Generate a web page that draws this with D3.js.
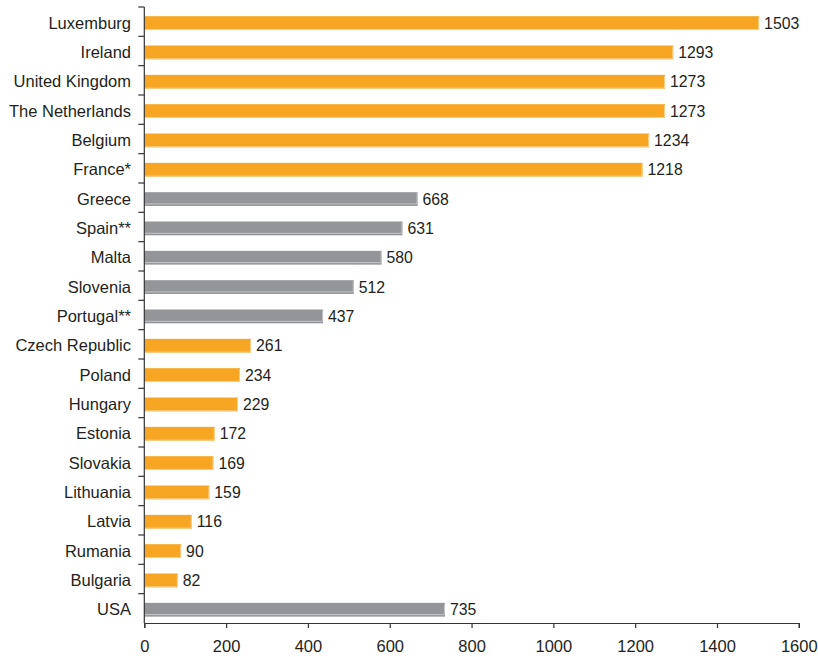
<!DOCTYPE html>
<html>
<head>
<meta charset="utf-8">
<script src="https://cdn.jsdelivr.net/npm/d3@7"></script>
<style>
  html, body { margin: 0; padding: 0; background: #fff; }
  svg { display: block; font-family: "Liberation Sans", Arial, sans-serif; }
</style>
</head>
<body>
<svg id="chart" width="818" height="657"></svg>
<script>
const countries = ["Luxemburg","Ireland","United Kingdom","The Netherlands","Belgium","France*",
  "Greece","Spain**","Malta","Slovenia","Portugal**","Czech Republic","Poland","Hungary",
  "Estonia","Slovakia","Lithuania","Latvia","Rumania","Bulgaria","USA"];
const values = [1503,1293,1273,1273,1234,1218,668,631,580,512,437,261,234,229,172,169,159,116,90,82,735];
const groups = ["o","o","o","o","o","o","g","g","g","g","g","o","o","o","o","o","o","o","o","o","g"];
const xTicks = [0,200,400,600,800,1000,1200,1400,1600];

const rows = countries.map((c, i) => ({ name: c, value: values[i], group: groups[i] }));

const svg = d3.select("#chart");
const plotLeft = 144.3, plotRight = 798.8, plotTop = 7, plotBottom = 623;

const x = d3.scaleLinear().domain([0,1600]).range([plotLeft,plotRight]);
const y = d3.scaleBand().domain(countries).range([plotTop,plotBottom]).paddingInner(0.53).paddingOuter(0.265);

const fills = { o: "#F6A623", g: "#939598" };
const edges = { o: "#FAD08A", g: "#C4C5C7" };

const bars = svg.append("g").attr("transform", "translate(0,1.4)")
  .selectAll("g").data(rows).join("g");
bars.append("rect")
  .attr("x", x(0))
  .attr("y", d => y(d.name))
  .attr("width", d => x(d.value) - x(0))
  .attr("height", y.bandwidth())
  .attr("fill", d => fills[d.group]);
// light edge along the bottom and right side of each bar
bars.append("path")
  .attr("d", d => {
    const x1 = x(d.value) - 0.5, yb = y(d.name) + y.bandwidth() - (d.group === "g" ? 2 : 0.5);
    return `M${x(0)},${yb}H${x1}V${y(d.name) + 1}`;
  })
  .attr("fill", "none")
  .attr("stroke", d => edges[d.group])
  .attr("stroke-width", 1);

bars.append("text")
  .attr("x", d => x(d.value) + 5)
  .attr("y", d => y(d.name) + y.bandwidth()/2)
  .attr("dy", "0.36em")
  .attr("font-size", 15.8)
  .attr("fill", "#231F20")
  .text(d => d.value);

// category labels
svg.append("g").selectAll("text").data(countries).join("text")
  .attr("x", 131)
  .attr("y", d => y(d) + y.bandwidth()/2 + 1)
  .attr("dy", "0.36em")
  .attr("text-anchor", "end")
  .attr("font-size", 16.5)
  .attr("fill", "#231F20")
  .text(d => d);

// y axis line with ticks at category boundaries
const step = y.step();
const yb = d3.range(countries.length).map(i => plotTop + i * step);
const ya = svg.append("g").attr("stroke", "#333").attr("stroke-width", 1.2);
ya.append("line").attr("x1", plotLeft).attr("x2", plotLeft).attr("y1", plotTop).attr("y2", plotBottom);
ya.selectAll("line.t").data(yb).join("line").attr("class","t")
  .attr("x1", plotLeft - 6).attr("x2", plotLeft).attr("y1", d => d).attr("y2", d => d);

// x axis
const xa = svg.append("g").attr("transform", `translate(0,${plotBottom})`)
  .call(d3.axisBottom(x).tickValues(xTicks).tickSize(5).tickPadding(12).tickFormat(d3.format("d")));
xa.select(".domain").attr("stroke", "#333").attr("stroke-width", 1.2);
xa.selectAll(".tick line").attr("stroke", "#333").attr("stroke-width", 1.2);
xa.selectAll(".tick text").attr("font-size", 16.5).attr("fill", "#231F20")
  .attr("font-family", "Liberation Sans, Arial, sans-serif");
</script>
</body>
</html>
